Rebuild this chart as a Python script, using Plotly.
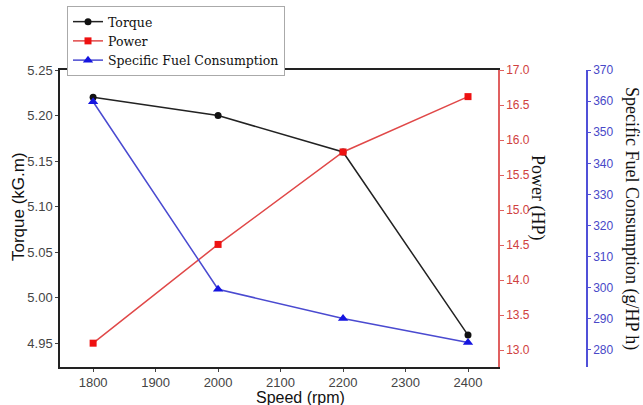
import plotly.graph_objects as go

speed = [1800, 2000, 2200, 2400]
torque = [5.22, 5.20, 5.16, 4.959]
power = [13.10, 14.51, 15.83, 16.62]
sfc = [359.8, 299.5, 290.1, 282.4]

SERIF = "Liberation Serif"
SANS = "Liberation Sans"

fig = go.Figure()
fig.add_trace(go.Scatter(x=speed, y=torque, name="Torque", mode="lines+markers",
                         line=dict(color="#222222", width=1.5),
                         marker=dict(symbol="circle", size=7, color="#111111"),
                         xaxis="x", yaxis="y"))
fig.add_trace(go.Scatter(x=speed, y=power, name="Power", mode="lines+markers",
                         line=dict(color="#e04848", width=1.5),
                         marker=dict(symbol="square", size=7, color="#ee1111"),
                         xaxis="x", yaxis="y2"))
fig.add_trace(go.Scatter(x=speed, y=sfc, name="Specific Fuel Consumption", mode="lines+markers",
                         line=dict(color="#4a4ad0", width=1.5),
                         marker=dict(symbol="triangle-up", size=9, color="#1515e0"),
                         xaxis="x", yaxis="y3"))

W, H = 643, 405
L, R, T, B = 60, 40, 70, 38
pw = W - L - R
ph = H - T - B
xdom = (498 - L) / pw


def px(xp):
    return (xp - L) / pw


def py(yp):
    return (H - B - yp) / ph


fig.update_layout(
    width=W, height=H,
    margin=dict(l=L, r=R, t=T, b=B, autoexpand=False),
    paper_bgcolor="white", plot_bgcolor="white",
    showlegend=True,
    legend=dict(x=px(67), y=py(6), xanchor="left", yanchor="top",
                bordercolor="#aaaaaa", borderwidth=1, bgcolor="white",
                font=dict(family="DejaVu Serif", size=12.5, color="#111111"),
                tracegroupgap=0, itemwidth=30),
    xaxis=dict(domain=[0, xdom], range=[1747, 2448], dtick=100, tick0=1800,
               showline=True, linecolor="#222222", linewidth=1.5, mirror=True,
               ticks="outside", ticklen=3, tickcolor="#444444",
               showgrid=False, zeroline=False,
               tickfont=dict(family=SANS, size=13, color="#444444")),
    yaxis=dict(range=[4.924, 5.25], dtick=0.05, tick0=4.95, tickformat=".2f",
               showline=True, linecolor="#222222", linewidth=1.5,
               ticks="outside", ticklen=3, tickcolor="#444444",
               showgrid=False, zeroline=False,
               tickfont=dict(family=SANS, size=13, color="#444444")),
    yaxis2=dict(range=[12.76, 17.0], dtick=0.5, tick0=13.0, tickformat=".1f",
                overlaying="y", side="right", anchor="x",
                showline=True, linecolor="#e06060", linewidth=1.5,
                ticks="outside", ticklen=4, tickcolor="#e06060",
                showgrid=False, zeroline=False,
                tickfont=dict(family=SANS, size=12, color="#d04040")),
    yaxis3=dict(range=[274.5, 370], dtick=10, tick0=280,
                overlaying="y", side="right", anchor="free", position=px(587),
                showline=True, linecolor="#5050d8", linewidth=1.5,
                ticks="outside", ticklen=3, tickcolor="#5050d8",
                showgrid=False, zeroline=False,
                tickfont=dict(family=SANS, size=12, color="#4848c8")),
    annotations=[
        dict(text="Torque (kG.m)", x=px(18), y=py(207), xref="paper", yref="paper",
             textangle=-90, showarrow=False, xanchor="center", yanchor="middle",
             font=dict(family=SANS, size=17, color="#111111")),
        dict(text="Power (HP)", x=px(538), y=py(198), xref="paper", yref="paper",
             textangle=90, showarrow=False, xanchor="center", yanchor="middle",
             font=dict(family=SERIF, size=18, color="#111111")),
        dict(text="Specific Fuel Consumption (g/HP h)", x=px(632), y=py(218),
             xref="paper", yref="paper",
             textangle=90, showarrow=False, xanchor="center", yanchor="middle",
             font=dict(family=SERIF, size=18, color="#111111")),
        dict(text="Speed (rpm)", x=px(300), y=py(397), xref="paper", yref="paper",
             showarrow=False, xanchor="center", yanchor="middle",
             font=dict(family=SANS, size=16, color="#111111")),
    ],
)

fig.write_html("out.html")
